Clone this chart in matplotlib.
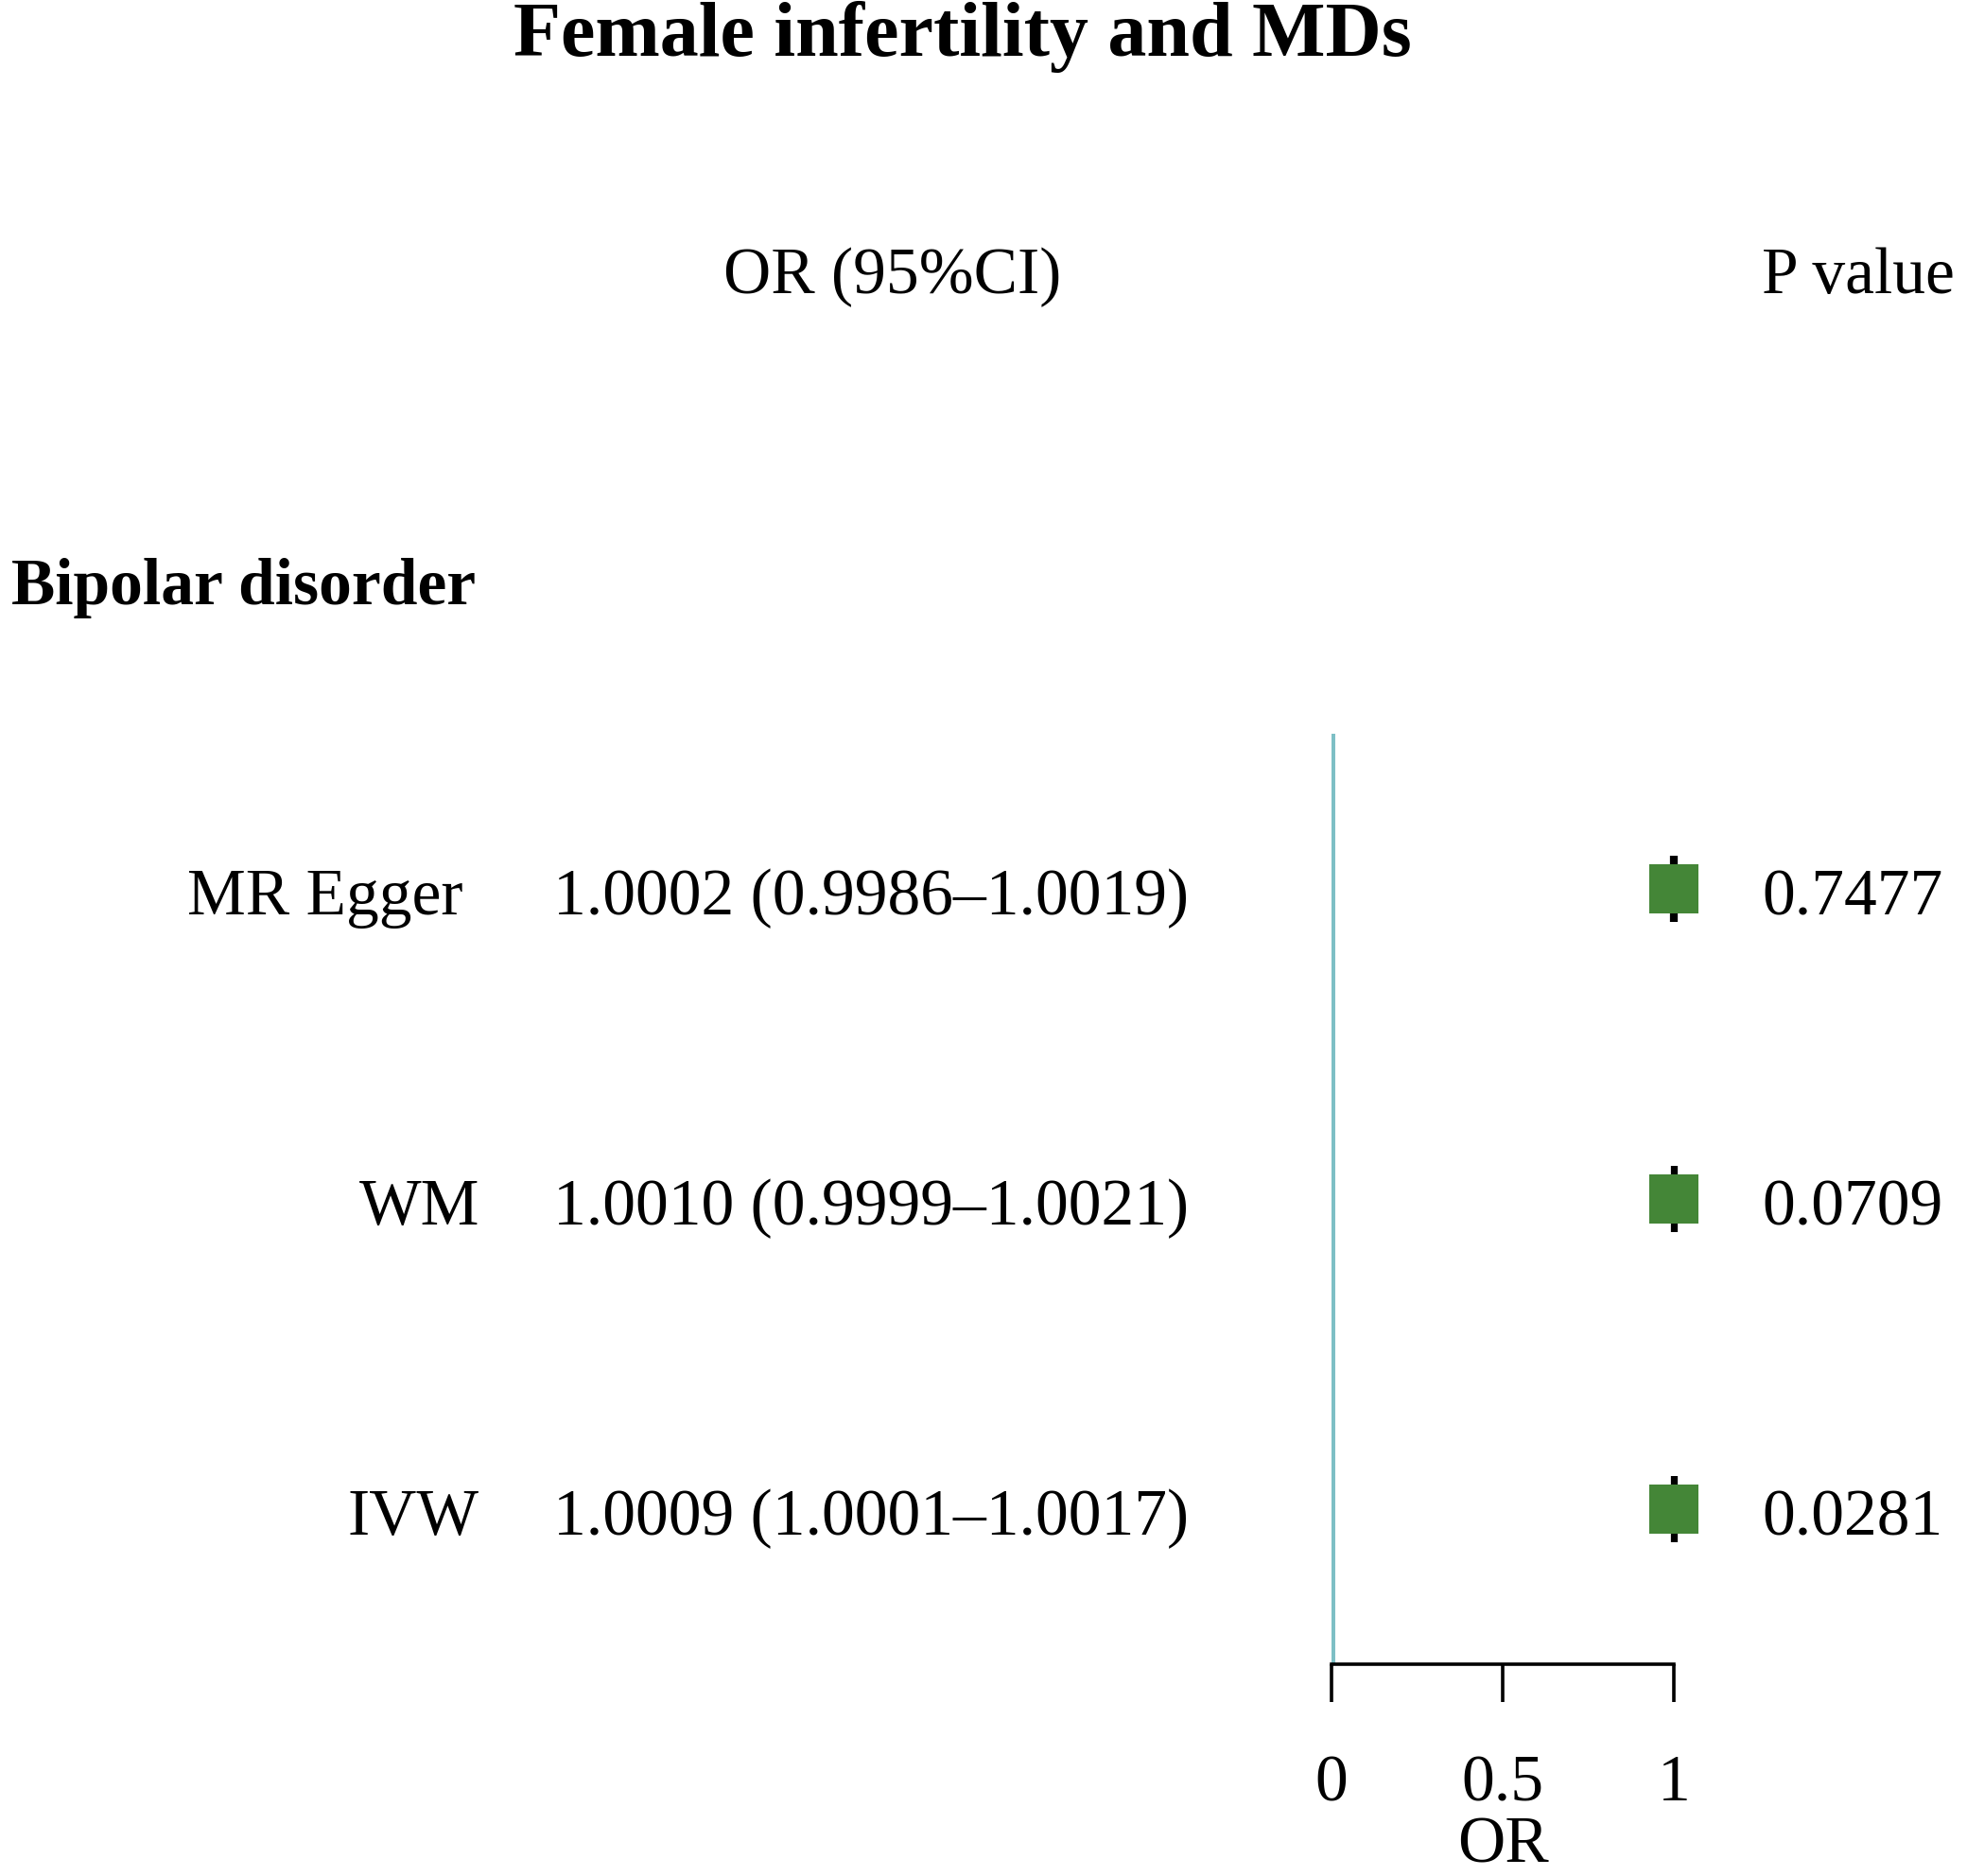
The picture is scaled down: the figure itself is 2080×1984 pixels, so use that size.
import matplotlib
matplotlib.use('Agg')
import matplotlib.pyplot as plt

# data
title = 'Female infertility and MDs'
group = 'Bipolar disorder'
methods = ['MR Egger ', 'WM', 'IVW']
or_vals = [1.0002, 1.0010, 1.0009]
ci_low = [0.9986, 0.9999, 1.0001]
ci_high = [1.0019, 1.0021, 1.0017]
p_vals = ['0.7477', '0.0709', '0.0281']
xticks = [0, 0.5, 1]
xticklabels = ['0', '0.5', '1']

W, H = 2080, 1984
plt.rcParams['font.family'] = ['Liberation Serif', 'DejaVu Serif']
FS = 50

fig = plt.figure(figsize=(W / 100, H / 100), dpi=100)

# background axes in pixel coords for the text table
bg = fig.add_axes([0, 0, 1, 1])
bg.set_xlim(0, W)
bg.set_ylim(H, 0)
bg.axis('off')

# forest panel
left, right, top, bottom = 1408, 1770, 776, 1760
ax = fig.add_axes([left / W, 1 - bottom / H, (right - left) / W, (bottom - top) / H])
rows = list(range(len(methods)))
ax.set_xlim(0, 1)
ax.set_ylim(len(methods) - 0.5, -0.5)

ax.axvline(0, color='#7DBFC5', lw=5, zorder=1)
xerr = [[o - l for o, l in zip(or_vals, ci_low)], [h - o for o, h in zip(or_vals, ci_high)]]
ax.errorbar(or_vals, rows, xerr=xerr, fmt='none', ecolor='black', elinewidth=3,
            capsize=25, capthick=4.5, clip_on=False, zorder=2)
ax.plot(or_vals, rows, 's', color='#448637', markersize=38, markeredgewidth=0,
        clip_on=False, zorder=3)

for s in ['top', 'right', 'left']:
    ax.spines[s].set_visible(False)
ax.spines['bottom'].set_bounds(0, 1)
ax.spines['bottom'].set_linewidth(2.6)
ax.set_yticks([])
ax.set_xticks(xticks)
ax.set_xticklabels(xticklabels, fontsize=FS)
ax.tick_params(axis='x', length=29, width=2.6, pad=40)
ax.set_xlabel('OR', fontsize=FS, labelpad=1)
ax.patch.set_alpha(0)

# text table
row0, step, base_off = 940, 328, 27
bg.text(1018, 59, title, fontsize=59, fontweight='bold', ha='center', va='baseline')
bg.text(944, 310, 'OR (95%CI)', fontsize=FS, ha='center', va='baseline')
bg.text(1863, 310, 'P value', fontsize=FS, ha='left', va='baseline')
bg.text(12, 639, group, fontsize=FS, fontweight='bold', ha='left', va='baseline')

for i, m in enumerate(methods):
    y = row0 + step * i + base_off
    bg.text(507, y, m, fontsize=FS, ha='right', va='baseline')
    bg.text(585, y, f'{or_vals[i]:.4f} ({ci_low[i]:.4f}\u2013{ci_high[i]:.4f})',
            fontsize=FS, ha='left', va='baseline')
    bg.text(1863, y, p_vals[i], fontsize=FS, ha='left', va='baseline')

fig.savefig('out.png', dpi=100, facecolor='white')
